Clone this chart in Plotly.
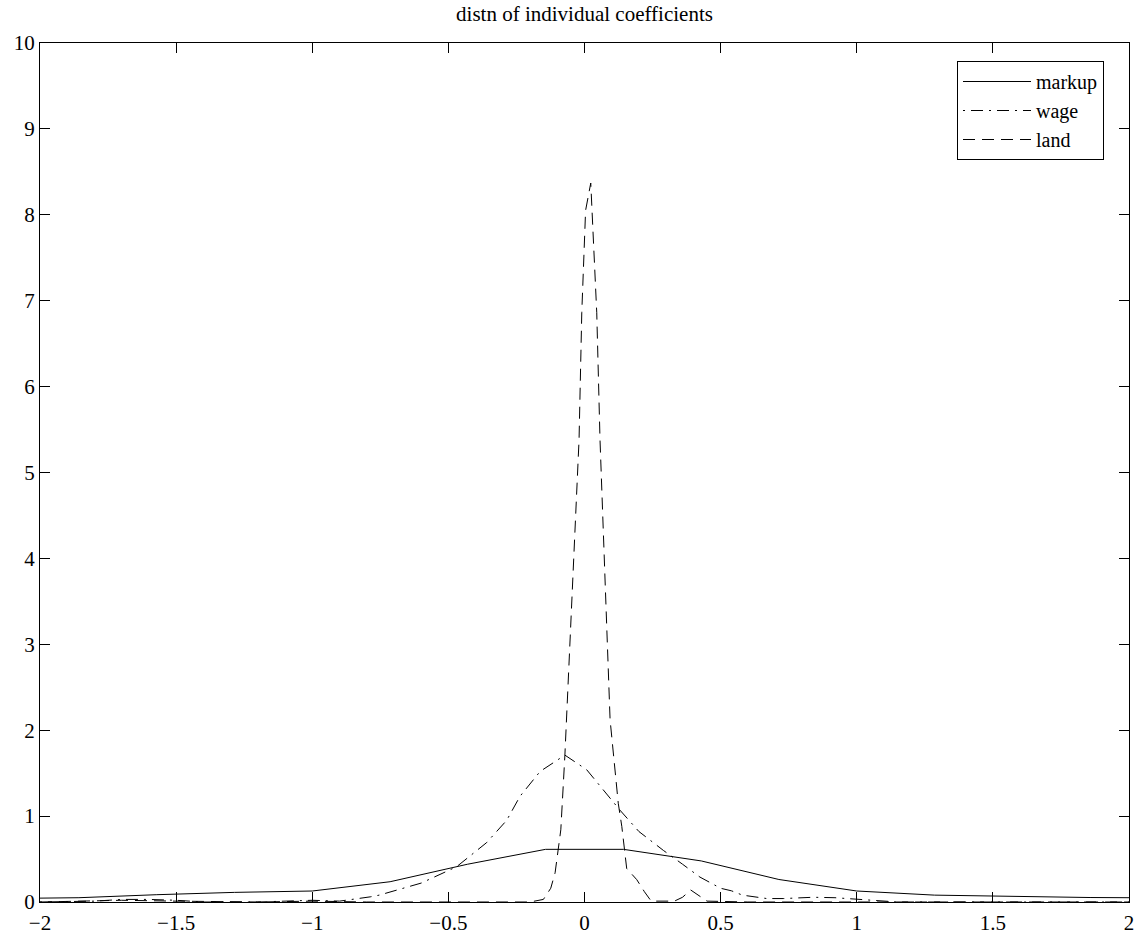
import plotly.graph_objects as go

title_text = "distn of individual coefficients"

markup_x = [-2.0, -1.857, -1.571, -1.286, -1.0, -0.714, -0.429, -0.143, 0.143, 0.429, 0.714, 1.0, 1.286, 1.571, 1.857, 2.0]
markup_y = [0.045, 0.05, 0.085, 0.112, 0.128, 0.236, 0.44, 0.613, 0.613, 0.478, 0.262, 0.128, 0.08, 0.062, 0.052, 0.05]

wage_x = [-2.0, -1.8, -1.7, -1.6, -1.5, -1.4, -1.2, -1.0, -0.9, -0.84, -0.787, -0.754, -0.6, -0.47, -0.36, -0.286, -0.237,
          -0.163, -0.072, 0.008, 0.13, 0.2, 0.29, 0.36, 0.424, 0.5, 0.54, 0.58, 0.67, 0.73, 0.84, 0.92, 1.0, 1.06, 1.15, 1.5, 2.0]
wage_y = [0.0, 0.01, 0.03, 0.03, 0.02, 0.0, 0.0, 0.02, 0.01, 0.035, 0.06, 0.08, 0.22, 0.41, 0.69, 0.95, 1.23,
          1.52, 1.71, 1.54, 1.07, 0.82, 0.6, 0.44, 0.29, 0.16, 0.13, 0.08, 0.04, 0.04, 0.055, 0.05, 0.03, 0.015, 0.0, 0.0, 0.0]

land_x = [-2.0, -1.7, -1.5, -1.2, -1.0, -0.8, -0.5, -0.2, -0.151, -0.124, -0.108, -0.087, -0.072, -0.046, -0.020, -0.010,
          0.004, 0.023, 0.045, 0.057, 0.094, 0.124, 0.137, 0.155, 0.192, 0.22, 0.245, 0.33, 0.36, 0.39, 0.45, 0.6, 1.0, 1.5, 2.0]
land_y = [0.0, 0.02, 0.01, 0.0, 0.01, 0.0, 0.0, 0.0, 0.03, 0.16, 0.34, 0.84, 1.71, 3.5, 5.38, 6.86,
          8.05, 8.37, 6.86, 5.38, 2.12, 1.15, 0.88, 0.39, 0.26, 0.12, 0.01, 0.01, 0.055, 0.14, 0.01, 0.0, 0.0, 0.0, 0.0]

x_ticks = [-2, -1.5, -1, -0.5, 0, 0.5, 1, 1.5, 2]
y_ticks = [0, 1, 2, 3, 4, 5, 6, 7, 8, 9, 10]

FONT = "Liberation Serif, Times New Roman, serif"

fig = go.Figure()
fig.add_trace(go.Scatter(x=markup_x, y=markup_y, mode="lines", name="markup",
                         line=dict(color="black", width=1, dash="solid")))
fig.add_trace(go.Scatter(x=wage_x, y=wage_y, mode="lines", name="wage",
                         line=dict(color="black", width=1, dash="2px,6px,12px,6px")))
fig.add_trace(go.Scatter(x=land_x, y=land_y, mode="lines", name="land",
                         line=dict(color="black", width=1, dash="12px,7px")))

axis_common = dict(showline=True, linecolor="black", linewidth=1, mirror="ticks",
                   ticks="inside", ticklen=10, tickwidth=1, tickcolor="black",
                   showgrid=False, zeroline=False, automargin=False,
                   tickfont=dict(family=FONT, size=21, color="black"))

fig.update_layout(
    width=1144, height=935,
    margin=dict(l=40, r=15, t=43, b=33),
    paper_bgcolor="white", plot_bgcolor="white",
    title=dict(text=title_text, x=0.5, xref="paper", xanchor="center",
               y=1 - 14 / 935, yref="container", yanchor="middle",
               font=dict(family=FONT, size=21, color="black")),
    xaxis=dict(range=[-2, 2], tickvals=x_ticks, ticklabelstandoff=2, **axis_common),
    yaxis=dict(range=[0, 10], tickvals=y_ticks, **axis_common),
    showlegend=True,
    legend=dict(x=(1104 - 40) / 1089, xanchor="right", y=(902 - 61) / 859, yanchor="top",
                bgcolor="white", bordercolor="black", borderwidth=1,
                font=dict(family=FONT, size=20, color="black"),
                itemwidth=68, tracegroupgap=0),
)

fig.write_html("out.html", config={"displayModeBar": False},
               post_script="document.body.style.margin='0';")
